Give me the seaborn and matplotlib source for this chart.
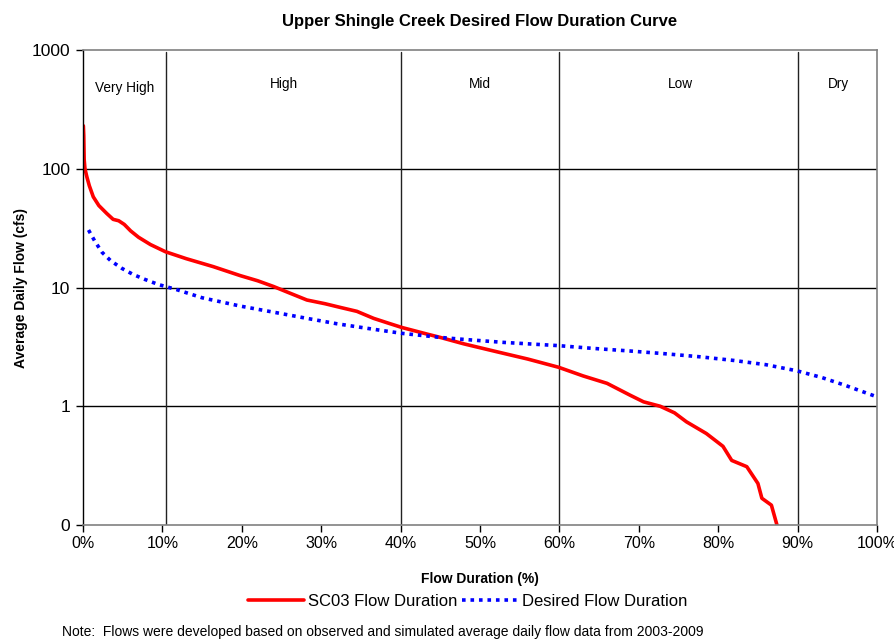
import matplotlib
matplotlib.use("Agg")
import matplotlib.pyplot as plt
import numpy as np
import pandas as pd
import seaborn as sns

sns.set_style("white")
plt.rcParams['font.family'] = ['Liberation Sans', 'DejaVu Sans']
plt.rcParams['text.color'] = 'black'
plt.rcParams['axes.labelcolor'] = 'black'

# observed flow duration (SC03), percent exceedance vs cfs
sc03_pct = [0.05, 0.1, 0.15, 0.25, 0.5, 0.8, 1.3, 2.0, 3.0, 3.8, 4.5, 5.2, 6.0, 7.0,
            8.5, 10.4, 13.0, 16.4, 19.8, 22.0, 24.0, 26.0, 28.2, 30.5, 32.4, 34.5,
            36.6, 38.5, 40.2, 43.3, 45.0, 48.0, 52.1, 56.0, 59.9, 63.0, 66.0, 68.9,
            70.6, 72.7, 74.5, 76.0, 78.5, 80.6, 81.7, 83.6, 85.0, 85.5, 86.7, 87.4]
sc03_cfs = [230, 190, 120, 100, 85, 72, 58, 49, 42, 37.5, 36.5, 34, 30, 26.5,
            23, 20, 17.5, 15, 12.6, 11.4, 10.2, 9.0, 7.85, 7.3, 6.8, 6.3,
            5.5, 5.0, 4.6, 4.06, 3.8, 3.35, 2.88, 2.5, 2.13, 1.8, 1.56, 1.24,
            1.09, 1.0, 0.88, 0.74, 0.59, 0.46, 0.35, 0.31, 0.224, 0.168,
            0.147, 0.1]

# desired flow duration
des_pct = [0.7, 1.5, 2.4, 3.5, 4.9, 6.3, 7.8, 9.5, 11.8, 15.0, 19.8, 24.0, 28.2,
           32.0, 36.6, 40.2, 45.0, 47.9, 53.0, 59.9, 64.0, 68.9, 73.0, 77.7, 82.0,
           86.0, 89.9, 93.0, 96.0, 100.0]
des_cfs = [30.5, 24.5, 19.8, 16.8, 14.5, 12.9, 11.7, 10.6, 9.6, 8.2, 6.98, 6.2, 5.5,
           4.95, 4.45, 4.11, 3.8, 3.66, 3.45, 3.24, 3.08, 2.92, 2.78, 2.61, 2.43,
           2.24, 1.99, 1.75, 1.5, 1.2]

# flow zones
zone_edges = [10.4, 40, 60, 90]
zone_names = ["Very High", "High", "Mid", "Low", "Dry"]
zone_centers = [5.3, 25.3, 50.0, 75.2, 95.2]
zone_label_y = [475, 520, 520, 520, 520]

x_ticks = [0, 10, 20, 30, 40, 50, 60, 70, 80, 90, 100]
y_ticks = [0.1, 1, 10, 100, 1000]
y_labels = ["0", "1", "10", "100", "1000"]

sc03 = pd.DataFrame({"pct": sc03_pct, "cfs": sc03_cfs})
des = pd.DataFrame({"pct": des_pct, "cfs": des_cfs})

fig = plt.figure(figsize=(8.94, 6.42), dpi=100)
ax = fig.add_axes([0.0928, 0.1822, 0.8882, 0.7399])

sns.lineplot(data=sc03, x="pct", y="cfs", ax=ax, color="#ff0000", linewidth=2.6,
             label="SC03 Flow Duration", sort=False, estimator=None)
sns.lineplot(data=des, x="pct", y="cfs", ax=ax, color="#0000ff", linewidth=2.6,
             label="Desired Flow Duration", sort=False, estimator=None)
ax.lines[1].set_dashes([1.0, 1.35])
ax.lines[1].set_dash_capstyle("butt")

ax.set_yscale("log")
ax.set_ylim(0.1, 1000)
ax.set_xlim(0, 100)
ax.set_yticks(y_ticks)
ax.set_yticklabels(y_labels)
ax.yaxis.set_minor_locator(matplotlib.ticker.NullLocator())
ax.set_xticks(x_ticks)
ax.set_xticklabels([f"{t}%" for t in x_ticks])
ax.tick_params(axis="both", direction="out", length=5, width=1,
               colors="black", left=True, bottom=True)
ax.tick_params(axis="x", labelsize=11.5, pad=3)
ax.tick_params(axis="y", labelsize=12.5, pad=4)

for v in [1, 10, 100]:
    ax.axhline(v, color="black", linewidth=1, zorder=0)
for e in zone_edges:
    ax.axvline(e, ymax=0.995, color="#222222", linewidth=1, zorder=0)
for name, c, yy in zip(zone_names, zone_centers, zone_label_y):
    ax.text(c, yy, name, ha="center", va="center", fontsize=9.8)

for s in ["top", "right", "bottom"]:
    ax.spines[s].set_color("#808080")
    ax.spines[s].set_linewidth(1.2)
ax.spines["left"].set_color("black")
ax.spines["left"].set_linewidth(1)

ax.set_xlabel("Flow Duration (%)", fontsize=10, fontweight="bold", labelpad=15)
ax.set_ylabel("Average Daily Flow (cfs)", fontsize=10, fontweight="bold", labelpad=3)
ax.set_title("Upper Shingle Creek Desired Flow Duration Curve", fontsize=12,
             fontweight="bold", pad=17)

handles, labels = ax.get_legend_handles_labels()
ax.get_legend().remove()
fig.legend(handles, labels, loc="center", bbox_to_anchor=(0.523, 0.063), ncol=2,
           frameon=False, fontsize=12, handlelength=3.4, handletextpad=0.2,
           columnspacing=0.3)

fig.text(0.069, 0.016, "Note:  Flows were developed based on observed and simulated "
         "average daily flow data from 2003-2009", fontsize=10, ha="left", va="center")

fig.savefig("out.png", dpi=100)
